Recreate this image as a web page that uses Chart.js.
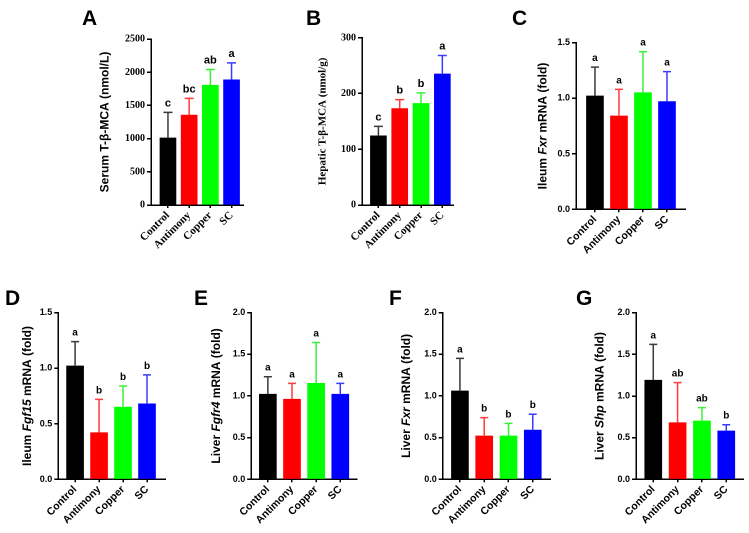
<!DOCTYPE html>
<html>
<head>
<meta charset="utf-8">
<script src="https://cdn.jsdelivr.net/npm/chart.js@4.4.1/dist/chart.umd.min.js"></script>
<style>
  html, body { margin: 0; padding: 0; background: #fff; }
  body { width: 749px; height: 533px; position: relative; overflow: hidden; }
  canvas { position: absolute; }
</style>
</head>
<body>
<script>
// ---------------- DATA ----------------
const categories = ['Control', 'Antimony', 'Copper', 'SC'];

// A: Serum T-β-MCA (nmol/L)
const serumMean   = [1010, 1355, 1805, 1885];
const serumUpper  = [1395, 1605, 2040, 2140];
const serumLetters = ['c', 'bc', 'ab', 'a'];
const serumTicks  = [0, 500, 1000, 1500, 2000, 2500];

// B: Hepatic T-β-MCA (nmol/g)
const hepaticMean  = [124, 173, 182, 235];
const hepaticUpper = [141, 189, 201, 268];
const hepaticLetters = ['c', 'b', 'b', 'a'];
const hepaticTicks = [0, 100, 200, 300];

// C: Ileum Fxr mRNA (fold)
const ileumFxrMean  = [1.02, 0.84, 1.05, 0.97];
const ileumFxrUpper = [1.28, 1.08, 1.42, 1.24];
const ileumFxrLetters = ['a', 'a', 'a', 'a'];
const ileumFxrTicks = [0, 0.5, 1.0, 1.5];

// D: Ileum Fgf15 mRNA (fold)
const ileumFgf15Mean  = [1.02, 0.42, 0.65, 0.68];
const ileumFgf15Upper = [1.24, 0.72, 0.84, 0.94];
const ileumFgf15Letters = ['a', 'b', 'b', 'b'];
const ileumFgf15Ticks = [0, 0.5, 1.0, 1.5];

// E: Liver Fgfr4 mRNA (fold)
const liverFgfr4Mean  = [1.02, 0.96, 1.15, 1.02];
const liverFgfr4Upper = [1.23, 1.15, 1.64, 1.15];
const liverFgfr4Letters = ['a', 'a', 'a', 'a'];
const liverFgfr4Ticks = [0, 0.5, 1.0, 1.5, 2.0];

// F: Liver Fxr mRNA (fold)
const liverFxrMean  = [1.06, 0.52, 0.52, 0.59];
const liverFxrUpper = [1.45, 0.74, 0.67, 0.78];
const liverFxrLetters = ['a', 'b', 'b', 'b'];
const liverFxrTicks = [0, 0.5, 1.0, 1.5, 2.0];

// G: Liver Shp mRNA (fold)
const liverShpMean  = [1.19, 0.68, 0.70, 0.58];
const liverShpUpper = [1.62, 1.16, 0.86, 0.655];
const liverShpLetters = ['a', 'ab', 'ab', 'b'];
const liverShpTicks = [0, 0.5, 1.0, 1.5, 2.0];

// ---------------- STYLE ----------------
const barColors = ['#000000', '#ff0000', '#00ff00', '#0000ff'];
const errColors = ['#3a3a3a', '#ff3b3b', '#3bf03b', '#3b3bff'];
const SANS = '"Liberation Sans", Arial, sans-serif';
const SERIF = '"Liberation Serif", "Times New Roman", serif';

const panels = [
  { tag: 'A', mean: serumMean, upper: serumUpper, letters: serumLetters, ticks: serumTicks, dec: 0,
    title: [['Serum T-β-MCA (nmol/L)', false]], titleFont: SANS, titleSize: 12, titleX: 105,
    tickFont: SERIF, tickSize: 10, catSize: 11, sigSize: 11,
    box: { x: 78, y: 0, w: 177, h: 262 }, plot: { l: 151, t: 39, r: 243, b: 205 },
    xMin: -0.8, xMax: 3.54, barW: 16, cap: 4.5, tagPos: [82, 25] },
  { tag: 'B', mean: hepaticMean, upper: hepaticUpper, letters: hepaticLetters, ticks: hepaticTicks, dec: 0,
    title: [['Hepatic T-β-MCA (nmol/g)', false]], titleFont: SERIF, titleSize: 11, titleX: 322.7,
    tickFont: SERIF, tickSize: 10, catSize: 11, sigSize: 11,
    box: { x: 280, y: 0, w: 185, h: 262 }, plot: { l: 362, t: 37.7, r: 453, b: 205 },
    xMin: -0.77, xMax: 3.5, barW: 16, cap: 4.5, tagPos: [306, 25] },
  { tag: 'C', mean: ileumFxrMean, upper: ileumFxrUpper, letters: ileumFxrLetters, ticks: ileumFxrTicks, dec: 1,
    title: [['Ileum ', false], ['Fxr', true], [' mRNA (fold)', false]], titleFont: SANS, titleSize: 12, titleX: 543,
    tickFont: SANS, tickSize: 9, catSize: 10.5, sigSize: 10,
    box: { x: 505, y: 0, w: 192, h: 262 }, plot: { l: 576, t: 42.7, r: 685, b: 209.3 },
    xMin: -0.79, xMax: 3.75, barW: 17, cap: 4, tagPos: [512, 25] },
  { tag: 'D', mean: ileumFgf15Mean, upper: ileumFgf15Upper, letters: ileumFgf15Letters, ticks: ileumFgf15Ticks, dec: 1,
    title: [['Ileum ', false], ['Fgf15', true], [' mRNA (fold)', false]], titleFont: SANS, titleSize: 12, titleX: 27.7,
    tickFont: SANS, tickSize: 9, catSize: 10.5, sigSize: 10,
    box: { x: 0, y: 270, w: 177, h: 263 }, plot: { l: 58.3, t: 312.7, r: 165, b: 479.3 },
    xMin: -0.7, xMax: 3.75, barW: 17, cap: 4, tagPos: [5, 305] },
  { tag: 'E', mean: liverFgfr4Mean, upper: liverFgfr4Upper, letters: liverFgfr4Letters, ticks: liverFgfr4Ticks, dec: 1,
    title: [['Liver ', false], ['Fgfr4', true], [' mRNA (fold)', false]], titleFont: SANS, titleSize: 12, titleX: 216.7,
    tickFont: SANS, tickSize: 9, catSize: 10.5, sigSize: 10,
    box: { x: 185, y: 270, w: 184, h: 263 }, plot: { l: 251.2, t: 312.5, r: 356.7, b: 479.3 },
    xMin: -0.69, xMax: 3.68, barW: 17, cap: 4, tagPos: [194, 305] },
  { tag: 'F', mean: liverFxrMean, upper: liverFxrUpper, letters: liverFxrLetters, ticks: liverFxrTicks, dec: 1,
    title: [['Liver ', false], ['Fxr', true], [' mRNA (fold)', false]], titleFont: SANS, titleSize: 12, titleX: 406.7,
    tickFont: SANS, tickSize: 9, catSize: 10.5, sigSize: 10,
    box: { x: 370, y: 270, w: 190, h: 263 }, plot: { l: 442.7, t: 312.5, r: 550, b: 479.3 },
    xMin: -0.71, xMax: 3.71, barW: 17, cap: 4, tagPos: [389, 305] },
  { tag: 'G', mean: liverShpMean, upper: liverShpUpper, letters: liverShpLetters, ticks: liverShpTicks, dec: 1,
    title: [['Liver ', false], ['Shp', true], [' mRNA (fold)', false]], titleFont: SANS, titleSize: 12, titleX: 600,
    tickFont: SANS, tickSize: 9, catSize: 10.5, sigSize: 10,
    box: { x: 555, y: 270, w: 194, h: 263 }, plot: { l: 636, t: 312.7, r: 743.3, b: 479.3 },
    xMin: -0.71, xMax: 3.7, barW: 17, cap: 4, tagPos: [576, 305] },
];

// --------------- PLUGIN: error bars, letters, y title, panel tag ---------------
const decorPlugin = {
  id: 'decor',
  afterDatasetsDraw(chart) {
    const p = chart.options.plugins.decor.panel;
    const ctx = chart.ctx;
    const xs = chart.scales.x, ys = chart.scales.y;
    ctx.save();
    p.mean.forEach((m, i) => {
      const x = xs.getPixelForValue(i);
      const y0 = ys.getPixelForValue(m);
      const y1 = ys.getPixelForValue(p.upper[i]);
      ctx.strokeStyle = errColors[i];
      ctx.lineWidth = 1.5;
      ctx.beginPath();
      ctx.moveTo(x, y0);
      ctx.lineTo(x, y1);
      ctx.moveTo(x - p.cap, y1);
      ctx.lineTo(x + p.cap, y1);
      ctx.stroke();
      ctx.fillStyle = '#000';
      ctx.font = 'bold ' + p.sigSize + 'px ' + SANS;
      ctx.textAlign = 'center';
      ctx.textBaseline = 'alphabetic';
      ctx.fillText(p.letters[i], x, y1 - 6);
    });
    ctx.restore();
  },
  afterDraw(chart) {
    const p = chart.options.plugins.decor.panel;
    const ctx = chart.ctx;
    const area = chart.chartArea;
    ctx.save();
    const cy = (area.top + area.bottom) / 2;
    ctx.translate(p.titleX - p.box.x, cy);
    ctx.rotate(-Math.PI / 2);
    const fonts = p.title.map(s => (s[1] ? 'italic bold ' : 'bold ') + p.titleSize + 'px ' + p.titleFont);
    let total = 0;
    const widths = p.title.map((s, k) => { ctx.font = fonts[k]; const w = ctx.measureText(s[0]).width; total += w; return w; });
    let cx = -total / 2;
    ctx.fillStyle = '#000';
    ctx.textBaseline = 'middle';
    ctx.textAlign = 'left';
    p.title.forEach((s, k) => { ctx.font = fonts[k]; ctx.fillText(s[0], cx, 0); cx += widths[k]; });
    ctx.restore();
    ctx.save();
    ctx.fillStyle = '#000';
    ctx.font = 'bold 21px ' + SANS;
    ctx.textAlign = 'left';
    ctx.textBaseline = 'alphabetic';
    ctx.fillText(p.tag, p.tagPos[0] - p.box.x, p.tagPos[1] - p.box.y);
    ctx.restore();
  }
};

panels.forEach(p => {
  const cv = document.createElement('canvas');
  cv.width = p.box.w; cv.height = p.box.h;
  cv.style.left = p.box.x + 'px'; cv.style.top = p.box.y + 'px';
  cv.style.width = p.box.w + 'px'; cv.style.height = p.box.h + 'px';
  document.body.appendChild(cv);

  const yw = p.plot.l - p.box.x;
  const pt = p.plot.t - p.box.y;
  const xh = p.box.y + p.box.h - p.plot.b;
  const pr = p.box.x + p.box.w - p.plot.r;

  new Chart(cv, {
    type: 'bar',
    data: {
      datasets: [{
        data: p.mean.map((v, i) => ({ x: i, y: v })),
        backgroundColor: barColors,
        borderWidth: 0,
        barThickness: p.barW
      }]
    },
    options: {
      responsive: false,
      animation: false,
      devicePixelRatio: 2,
      layout: { padding: { left: 0, top: pt, right: pr, bottom: 0 } },
      plugins: { legend: { display: false }, tooltip: { enabled: false }, decor: { panel: p } },
      scales: {
        x: {
          type: 'linear',
          offset: false,
          min: p.xMin, max: p.xMax,
          afterBuildTicks: s => { s.ticks = categories.map((c, i) => ({ value: i })); },
          afterFit: s => { s.height = xh; s.paddingLeft = 0; s.paddingRight = 0; },
          grid: { display: true, offset: false, drawOnChartArea: false, drawTicks: true, tickLength: 3, color: '#000', lineWidth: 1.5 },
          border: { display: true, color: '#000', width: 1.5 },
          ticks: {
            autoSkip: false, minRotation: 45, maxRotation: 45, padding: 1,
            color: '#000',
            font: { family: p.tickFont, size: p.catSize, weight: 'bold' },
            callback: v => categories[v]
          }
        },
        y: {
          type: 'linear',
          min: 0, max: p.ticks[p.ticks.length - 1],
          afterBuildTicks: s => { s.ticks = p.ticks.map(v => ({ value: v })); },
          afterFit: s => { s.width = yw; s.paddingTop = 0; s.paddingBottom = 0; },
          grid: { display: true, drawOnChartArea: false, drawTicks: true, tickLength: 4, color: '#000', lineWidth: 1.5 },
          border: { display: true, color: '#000', width: 1.5 },
          ticks: {
            padding: 2, color: '#000',
            font: { family: p.tickFont, size: p.tickSize, weight: 'bold' },
            callback: v => v.toFixed(p.dec)
          }
        }
      }
    },
    plugins: [decorPlugin]
  });
});
</script>
</body>
</html>
